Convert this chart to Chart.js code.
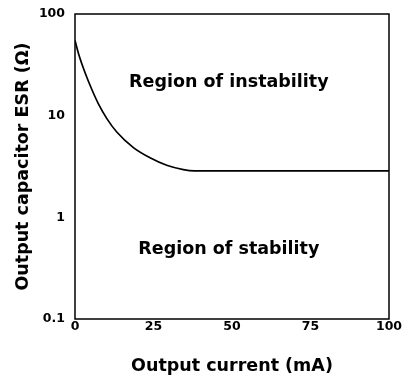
<!DOCTYPE html>
<html>
<head>
<meta charset="utf-8">
<script src="https://cdn.jsdelivr.net/npm/chart.js@4"></script>
<style>
  html, body { margin: 0; padding: 0; background: #fff; }
  #wrap { width: 402px; height: 376px; position: relative; }
</style>
</head>
<body>
<div id="wrap"><canvas id="esrChart"></canvas></div>
<script>
// Data kurva ESR vs arus
const arusMA = [0, 1.2, 3.3, 5.4, 7.5, 10.2, 13.3, 18.6, 23.9, 29.2, 34.5, 38, 100];
const esrOhm = [55, 40, 26, 18, 13, 9.3, 6.9, 4.85, 3.85, 3.25, 2.95, 2.87, 2.87];
const xTicks = [0, 25, 50, 75, 100];
const yTicks = [0.1, 1, 10, 100];

// Label area
const labelRegion = ['Region of instability', 'Region of stability'];
const labelPos = [[49, 21], [49, 0.48]];

const fontFamily = '"DejaVu Sans", sans-serif';

// Plugin untuk bingkai + teks region
const frameAndText = {
  id: 'frameAndText',
  afterDraw(chart) {
    const { ctx, chartArea, scales } = chart;
    ctx.save();
    ctx.strokeStyle = '#000';
    ctx.lineWidth = 1.5;
    ctx.strokeRect(chartArea.left, chartArea.top, chartArea.right - chartArea.left, chartArea.bottom - chartArea.top);
    ctx.fillStyle = '#000';
    ctx.font = 'bold 17.5px ' + fontFamily;
    ctx.textAlign = 'center';
    ctx.textBaseline = 'middle';
    labelRegion.forEach((txt, i) => {
      const px = scales.x.getPixelForValue(labelPos[i][0]);
      const py = scales.y.getPixelForValue(labelPos[i][1]);
      ctx.fillText(txt, px, py);
    });
    ctx.restore();
  }
};

const ctx = document.getElementById('esrChart').getContext('2d');

new Chart(ctx, {
  type: 'line',
  data: {
    datasets: [{
      data: arusMA.map((x, i) => ({ x, y: esrOhm[i] })),
      borderColor: '#000',
      borderWidth: 1.7,
      pointRadius: 0,
      fill: false,
      cubicInterpolationMode: 'monotone'
    }]
  },
  options: {
    responsive: true,
    maintainAspectRatio: false,
    animation: false,
    layout: { padding: { top: 14, right: 13, left: 0, bottom: 0 } },
    plugins: {
      legend: { display: false },
      tooltip: { enabled: false }
    },
    scales: {
      x: {
        type: 'linear',
        min: 0,
        max: 100,
        afterFit: scale => {
          scale.height = 57;
          scale.paddingLeft = 0;
          scale.paddingRight = 0;
        },
        afterBuildTicks: scale => { scale.ticks = xTicks.map(v => ({ value: v })); },
        grid: { display: false, drawTicks: false },
        border: { display: false },
        ticks: {
          padding: 0,
          color: '#000',
          font: { family: fontFamily, size: 12.5, weight: 'bold' }
        },
        title: {
          display: true,
          text: 'Output current (mA)',
          color: '#000',
          padding: { top: 0, bottom: -1 },
          font: { family: fontFamily, size: 17.5, weight: 'bold' }
        }
      },
      y: {
        type: 'logarithmic',
        min: 0.1,
        max: 100,
        afterFit: scale => {
          scale.width = 75;
          scale.paddingTop = 0;
          scale.paddingBottom = 0;
        },
        afterBuildTicks: scale => { scale.ticks = yTicks.map(v => ({ value: v })); },
        grid: { display: false, drawTicks: false },
        border: { display: false },
        ticks: {
          padding: 10,
          color: '#000',
          autoSkip: false,
          callback: v => String(v),
          font: { family: fontFamily, size: 12.5, weight: 'bold' }
        },
        title: {
          display: true,
          text: 'Output capacitor ESR (Ω)',
          color: '#000',
          padding: { top: 13, bottom: 0 },
          font: { family: fontFamily, size: 17.5, weight: 'bold' }
        }
      }
    }
  },
  plugins: [frameAndText]
});
</script>
</body>
</html>
